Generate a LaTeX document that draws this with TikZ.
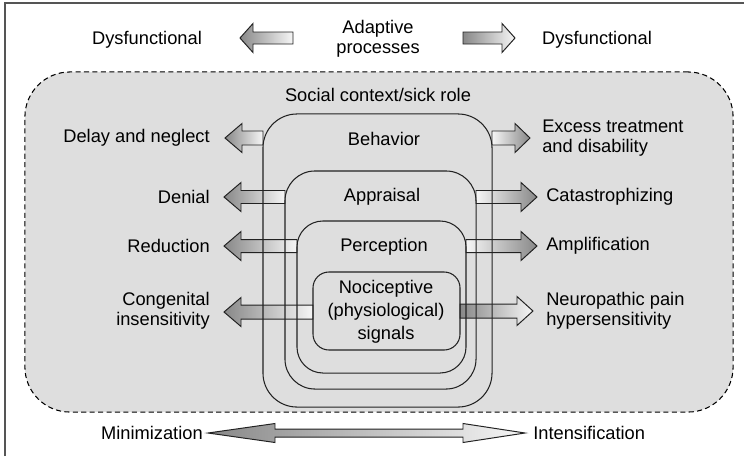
\documentclass[tikz,border=0pt]{standalone}
\usepackage{fontspec}
\setmainfont{Liberation Sans}
\usetikzlibrary{positioning}
\definecolor{regionfill}{HTML}{DEDEDE}
\definecolor{inkline}{HTML}{222222}
\definecolor{framegray}{HTML}{555555}
\definecolor{shadedark}{HTML}{888888}
\definecolor{shadelight}{HTML}{F6F6F6}
\tikzset{
    lbl/.style={
        font=\fontsize{13}{14.5}\selectfont, inner sep=0pt, align=center
    },
    ring/.style={
        draw=inkline, line width=0.75pt, rounded corners=#1,
        inner sep=0pt, outer sep=0pt
    },
    region/.style={
        draw=black, fill=regionfill, dashed, dash pattern=on 3.6pt off 2.4pt,
        line width=0.75pt, rounded corners=1.125cm, inner sep=0pt
    },
    dark to light/.style={
        left color=shadedark, right color=shadelight, draw=inkline, line width=0.7pt
    },
    light to dark/.style={
        left color=shadelight, right color=shadedark, draw=inkline, line width=0.7pt
    },
}
% block arrow: [style]{tail x}{tip x}{y}{head length}{half shaft}{half head}
\newcommand{\fatarrow}[7][]{%
    \pgfmathsetmacro{\hb}{#3-#5*sign(#3-#2)}%
    \path[#1] (#2,#4-#6) -- (\hb,#4-#6) -- (\hb,#4-#7) -- (#3,#4)
        -- (\hb,#4+#7) -- (\hb,#4+#6) -- (#2,#4+#6) -- cycle;}

\begin{document}
\begin{tikzpicture}[x=0.025cm, y=-0.025cm]
    \useasboundingbox (0,0) rectangle (744,456);

    % frame
    \draw[framegray, line width=0.9pt] (5,456) -- (5,3) -- (744,3);

    % top row
    \node[lbl] (dysleft) at (147,40) {Dysfunctional};
    \node[lbl] (adaptive) at (378,39) {Adaptive\\processes};
    \node[lbl] (dysright) at (597,40) {Dysfunctional};
    \fatarrow[dark to light]{293}{240}{38}{13}{6}{14.5}
    \fatarrow[dark to light]{463}{515}{38}{13}{6}{14.5}

    % shaded region
    \node[region, minimum width=17.7cm, minimum height=8.5cm] (context) at (379,242) {};
    \node[lbl] (contextlbl) at (378,95) {Social context/sick role};

    % arrows to the left
    \fatarrow[dark to light]{263}{225}{138}{17}{7}{14.5}
    \fatarrow[dark to light]{285}{224}{197}{17}{6.5}{14.5}
    \fatarrow[dark to light]{297}{224}{246}{17}{6.5}{14.5}
    \fatarrow[dark to light]{313}{224}{312}{17}{7}{14.5}

    % arrows to the right
    \fatarrow[light to dark]{492}{530}{138}{15}{7}{14.5}
    \fatarrow[light to dark]{476}{537}{197}{16}{6.5}{14.5}
    \fatarrow[light to dark]{466}{537}{246}{16}{6.5}{14.5}
    \fatarrow[dark to light]{460}{533}{311}{16}{7}{14.5}

    % nested boxes
    \node[ring=0.85cm, minimum width=5.725cm, minimum height=7.325cm] (behavior) at (377.5,260.5) {};
    \node[ring=0.75cm, minimum width=4.775cm, minimum height=5.45cm] (appraisal) at (380.5,280) {};
    \node[ring=0.65cm, minimum width=4.225cm, minimum height=3.8cm] (perception) at (381.5,297) {};
    \node[ring=0.4cm, minimum width=3.675cm, minimum height=1.95cm] (nociceptive) at (386.5,311) {};

    \node[lbl] (behaviorlbl) at (384,139) {Behavior};
    \node[lbl] (appraisallbl) at (382,197) {Appraisal};
    \node[lbl] (perceptionlbl) at (384,247) {Perception};
    \node[lbl, font=\fontsize{13}{16.3}\selectfont] (nocilbl) at (386,312) {Nociceptive\\(physiological)\\signals};

    % outcome labels
    \node[lbl, anchor=east, align=right] (delay) at (210,138) {Delay and neglect};
    \node[lbl, anchor=east, align=right] (denial) at (210,197) {Denial};
    \node[lbl, anchor=east, align=right] (reduction) at (210,246) {Reduction};
    \node[lbl, anchor=east, align=right] (congenital) at (210,311) {Congenital\\insensitivity};

    \node[lbl, anchor=west, align=left] (excess) at (542,138) {Excess treatment\\and disability};
    \node[lbl, anchor=west, align=left] (catastro) at (546,197) {Catastrophizing};
    \node[lbl, anchor=west, align=left] (amplif) at (546,246) {Amplification};
    \node[lbl, anchor=west, align=left] (neuro) at (546,311) {Neuropathic pain\\hypersensitivity};

    % bottom scale
    \node[lbl, anchor=east] (minimization) at (203,433) {Minimization};
    \node[lbl, anchor=west] (intensification) at (533,433) {Intensification};
    \path[dark to light] (208,433) -- (275,423.5) -- (275,429) -- (463,429) -- (463,423.5)
        -- (525,433) -- (463,442.5) -- (463,437) -- (275,437) -- (275,442.5) -- cycle;

\end{tikzpicture}
\end{document}
